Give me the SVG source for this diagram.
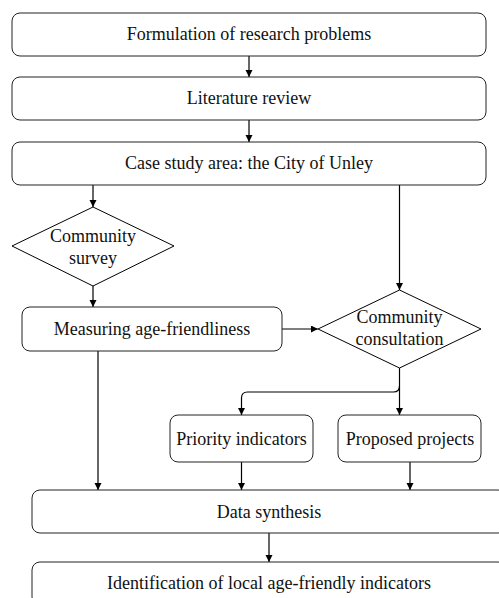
<svg xmlns="http://www.w3.org/2000/svg" width="499" height="598" viewBox="0 0 499 598">
<style>
.box{fill:#fff;stroke:#222;stroke-width:1}
.dia{fill:#fff;stroke:#000;stroke-width:1}
.t{font-family:"Liberation Serif","Times New Roman",serif;font-size:18px;fill:#111;text-anchor:middle}
.c{fill:none;stroke:#000;stroke-width:1.2}
</style>
<defs>
<marker id="ah" markerWidth="8" markerHeight="8" refX="7" refY="3.5" orient="auto" markerUnits="userSpaceOnUse">
<path d="M0,0 L7,3.5 L0,7 Z" fill="#000"/>
</marker>
</defs>
<rect width="499" height="598" fill="#fff"/>
<g id="connectors">
<path class="c" d="M249,56 V77" marker-end="url(#ah)"/>
<path class="c" d="M249,120 V142" marker-end="url(#ah)"/>
<path class="c" d="M93,185 V207" marker-end="url(#ah)"/>
<path class="c" d="M399.5,185 V290" marker-end="url(#ah)"/>
<path class="c" d="M93,286 V307" marker-end="url(#ah)"/>
<path class="c" d="M282,329 H318" marker-end="url(#ah)"/>
<path class="c" d="M98,351 V490" marker-end="url(#ah)"/>
<path class="c" d="M399.5,368 V415" marker-end="url(#ah)"/>
<path class="c" d="M399.5,386 Q399.5,392 393.5,392 H247.5 Q241.5,392 241.5,398 V415" marker-end="url(#ah)"/>
<path class="c" d="M241.5,462 V490" marker-end="url(#ah)"/>
<path class="c" d="M410,462 V490" marker-end="url(#ah)"/>
<path class="c" d="M269,533 V562" marker-end="url(#ah)"/>
</g>
<g id="n1"><rect class="box" x="12" y="13" width="474" height="43" rx="8"/><text class="t" x="249" y="40">Formulation of research problems</text></g>
<g id="n2"><rect class="box" x="12" y="77" width="474" height="43" rx="8"/><text class="t" x="249" y="104">Literature review</text></g>
<g id="n3"><rect class="box" x="12" y="142" width="474" height="43" rx="8"/><text class="t" x="249" y="169">Case study area: the City of Unley</text></g>
<g id="n4"><polygon class="dia" points="93,207 174,246 93,286 12,246"/><text class="t" x="93" y="242">Community</text><text class="t" x="93" y="264">survey</text></g>
<g id="n5"><rect class="box" x="22" y="307" width="260" height="44" rx="8"/><text class="t" x="152" y="335">Measuring age-friendliness</text></g>
<g id="n6"><polygon class="dia" points="399.5,290 481,329 399.5,368 318,329"/><text class="t" x="399.5" y="323">Community</text><text class="t" x="399.5" y="345">consultation</text></g>
<g id="n7"><rect class="box" x="170" y="415" width="143" height="47" rx="8"/><text class="t" x="241.5" y="445">Priority indicators</text></g>
<g id="n8"><rect class="box" x="338" y="415" width="143" height="47" rx="8"/><text class="t" x="410" y="445">Proposed projects</text></g>
<g id="n9"><rect class="box" x="32" y="490" width="474" height="43" rx="8"/><text class="t" x="269" y="518">Data synthesis</text></g>
<g id="n10"><rect class="box" x="32" y="562" width="474" height="43" rx="8"/><text class="t" x="269" y="589">Identification of local age-friendly indicators</text></g>
</svg>
